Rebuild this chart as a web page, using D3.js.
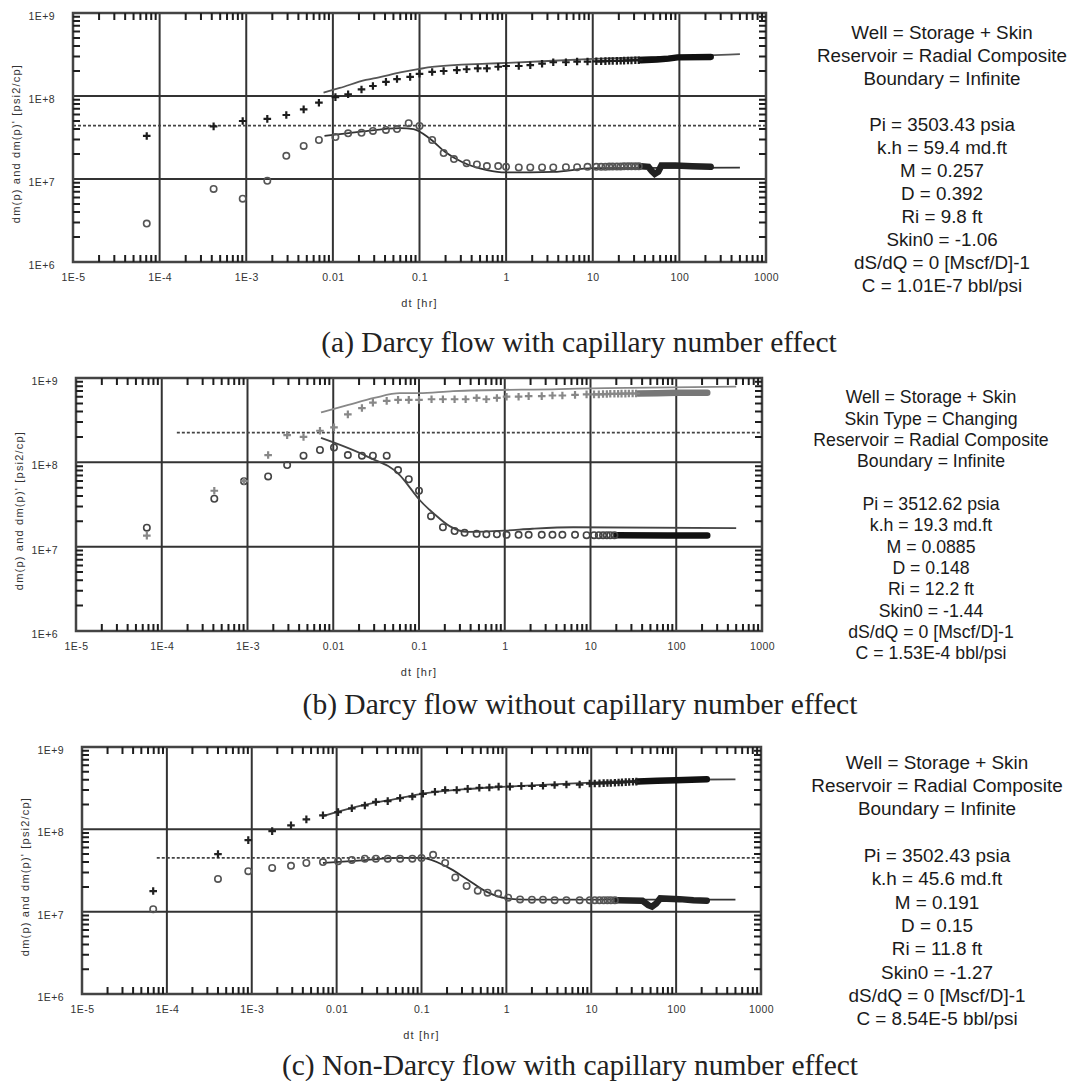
<!DOCTYPE html>
<html>
<head>
<meta charset="utf-8">
<script src="https://cdn.jsdelivr.net/npm/d3@7"></script>
<style>
  body { margin: 0; background: #fff; }
  svg { display: block; }
</style>
</head>
<body>
<svg id="chart" width="1070" height="1081"></svg>
<script>
// axis ticks
const xDecades = [1e-5, 1e-4, 1e-3, 1e-2, 1e-1, 1, 10, 100, 1000];
const xTickLabels = ["1E-5", "1E-4", "1E-3", "0.01", "0.1", "1", "10", "100", "1000"];
const yDecades = [1e6, 1e7, 1e8, 1e9];
const yTickLabels = ["1E+6", "1E+7", "1E+8", "1E+9"];
// minor tick multipliers inside a decade
const minorSteps = [2, 3, 4, 5, 6, 7, 8, 9];

const captions = [
  "(a) Darcy flow with capillary number effect",
  "(b) Darcy flow without capillary number effect",
  "(c) Non-Darcy flow with capillary number effect"
];

const paramsA = ["Well = Storage + Skin", "Reservoir = Radial Composite", "Boundary = Infinite", "",
  "Pi = 3503.43 psia", "k.h = 59.4 md.ft", "M = 0.257", "D = 0.392", "Ri = 9.8 ft",
  "Skin0 = -1.06", "dS/dQ = 0 [Mscf/D]-1", "C = 1.01E-7 bbl/psi"];
const paramsB = ["Well = Storage + Skin", "Skin Type = Changing", "Reservoir = Radial Composite", "Boundary = Infinite", "",
  "Pi = 3512.62 psia", "k.h = 19.3 md.ft", "M = 0.0885", "D = 0.148", "Ri = 12.2 ft",
  "Skin0 = -1.44", "dS/dQ = 0 [Mscf/D]-1", "C = 1.53E-4 bbl/psi"];
const paramsC = ["Well = Storage + Skin", "Reservoir = Radial Composite", "Boundary = Infinite", "",
  "Pi = 3502.43 psia", "k.h = 45.6 md.ft", "M = 0.191", "D = 0.15", "Ri = 11.8 ft",
  "Skin0 = -1.27", "dS/dQ = 0 [Mscf/D]-1", "C = 8.54E-5 bbl/psi"];

// ---- panel (a) ----
const pressA = [[7.1e-5, 3.3e7], [4.2e-4, 4.3e7], [9.1e-4, 5.0e7], [1.75e-3, 5.3e7], [2.9e-3, 5.9e7],
  [4.6e-3, 6.9e7], [6.9e-3, 8.3e7], [0.0107, 9.7e7], [0.015, 1.05e8], [0.0214, 1.2e8], [0.029, 1.32e8],
  [0.041, 1.48e8], [0.055, 1.6e8], [0.078, 1.7e8], [0.10, 1.85e8], [0.14, 1.95e8], [0.19, 2.0e8],
  [0.27, 2.05e8], [0.35, 2.1e8], [0.47, 2.15e8], [0.60, 2.15e8], [0.81, 2.25e8], [1.0, 2.3e8],
  [1.4, 2.3e8], [1.9, 2.35e8], [2.6, 2.45e8], [3.5, 2.55e8], [4.9, 2.55e8], [6.6, 2.6e8], [8.7, 2.6e8],
  [11, 2.62e8], [12.5, 2.62e8], [14, 2.63e8], [15.5, 2.64e8], [17, 2.64e8], [19, 2.65e8], [21, 2.66e8],
  [23, 2.67e8], [25.5, 2.68e8], [28, 2.68e8], [31, 2.7e8], [34, 2.7e8]];
const derivA = [[7.1e-5, 2.9e6], [4.2e-4, 7.6e6], [9.1e-4, 5.8e6], [1.75e-3, 9.5e6], [2.9e-3, 1.9e7],
  [4.6e-3, 2.5e7], [6.9e-3, 2.95e7], [0.0107, 3.2e7], [0.015, 3.55e7], [0.0214, 3.6e7], [0.029, 3.8e7],
  [0.041, 3.9e7], [0.055, 4.0e7], [0.075, 4.7e7], [0.10, 4.35e7], [0.14, 2.95e7], [0.19, 2.05e7],
  [0.25, 1.74e7], [0.35, 1.55e7], [0.46, 1.5e7], [0.60, 1.43e7], [0.81, 1.43e7], [1.0, 1.4e7],
  [1.4, 1.38e7], [1.9, 1.38e7], [2.6, 1.38e7], [3.5, 1.38e7], [4.9, 1.39e7], [6.6, 1.39e7], [8.7, 1.4e7],
  [11, 1.4e7], [12.5, 1.4e7], [14, 1.4e7], [15.5, 1.41e7], [17, 1.41e7], [19, 1.41e7], [21, 1.41e7],
  [23, 1.42e7], [25.5, 1.42e7], [28, 1.42e7], [31, 1.42e7], [34, 1.42e7]];
const pressBandA = [[36, 2.7e8], [55, 2.75e8], [75, 2.82e8], [95, 2.92e8], [230, 2.96e8]];
const derivBandA = [[36, 1.42e7], [44, 1.4e7], [48, 1.25e7], [52, 1.15e7], [57, 1.22e7], [62, 1.45e7],
  [90, 1.45e7], [140, 1.42e7], [230, 1.4e7]];
const modelPressA = [[0.0078, 1.1e8], [0.012, 1.25e8], [0.024, 1.56e8], [0.034, 1.68e8], [0.06, 1.92e8],
  [0.1, 2.12e8], [0.14, 2.24e8], [0.6, 2.45e8], [1.0, 2.5e8], [10, 2.8e8], [100, 3.0e8], [500, 3.2e8]];
const modelDerivA = [[0.008, 3.3e7], [0.02, 3.7e7], [0.06, 4.1e7], [0.085, 4.0e7], [0.13, 3.1e7],
  [0.2, 2.1e7], [0.31, 1.6e7], [0.6, 1.28e7], [1.0, 1.2e7], [3.5, 1.22e7], [10, 1.35e7], [500, 1.37e7]];
const stabA = [[1e-5, 4.4e7], [1e3, 4.4e7]];

// ---- panel (b) ----
const pressB = [[6.7e-5, 1.35e7], [4.1e-4, 4.6e7], [9.1e-4, 6.0e7], [1.74e-3, 1.22e8], [2.9e-3, 2.1e8],
  [4.5e-3, 2.0e8], [7e-3, 2.37e8], [0.0102, 2.6e8], [0.0148, 3.7e8], [0.0216, 4.4e8], [0.029, 5.1e8],
  [0.042, 5.35e8], [0.057, 5.5e8], [0.076, 5.5e8], [0.10, 5.5e8], [0.14, 5.6e8], [0.19, 5.6e8],
  [0.26, 5.6e8], [0.35, 5.6e8], [0.47, 5.8e8], [0.61, 5.6e8], [0.81, 5.8e8], [1.05, 6.0e8], [1.45, 6.0e8],
  [1.9, 6.1e8], [2.7, 6.1e8], [3.6, 6.2e8], [4.7, 6.2e8], [6.6, 6.3e8], [9, 6.4e8], [11, 6.4e8],
  [12.5, 6.4e8], [14, 6.45e8], [15.5, 6.45e8], [17, 6.5e8], [19, 6.5e8], [21, 6.5e8], [23, 6.52e8],
  [25.5, 6.52e8], [28, 6.55e8], [31, 6.55e8], [34, 6.55e8]];
const derivB = [[6.7e-5, 1.68e7], [4.1e-4, 3.7e7], [9.1e-4, 5.95e7], [1.74e-3, 6.8e7], [2.9e-3, 9.3e7],
  [4.5e-3, 1.2e8], [7e-3, 1.4e8], [0.0102, 1.5e8], [0.0148, 1.22e8], [0.0216, 1.2e8], [0.029, 1.2e8],
  [0.042, 1.2e8], [0.057, 8.1e7], [0.076, 6.3e7], [0.10, 4.6e7], [0.138, 2.3e7], [0.19, 1.7e7],
  [0.26, 1.53e7], [0.34, 1.46e7], [0.47, 1.42e7], [0.61, 1.4e7], [0.81, 1.4e7], [1.05, 1.38e7],
  [1.45, 1.38e7], [1.9, 1.38e7], [2.7, 1.38e7], [3.6, 1.38e7], [4.7, 1.38e7], [6.6, 1.38e7], [9, 1.37e7],
  [11, 1.37e7], [12.5, 1.37e7], [14, 1.37e7], [15.5, 1.37e7], [17, 1.37e7], [19, 1.37e7]];
const pressBandB = [[36, 6.55e8], [60, 6.6e8], [100, 6.7e8], [230, 6.7e8]];
const derivBandB = [[20, 1.37e7], [80, 1.36e7], [230, 1.36e7]];
const modelPressB = [[0.0072, 3.9e8], [0.015, 4.8e8], [0.03, 5.8e8], [0.06, 6.6e8], [0.1, 6.6e8],
  [0.25, 7.0e8], [4.3, 7.4e8], [15, 7.6e8], [500, 7.9e8]];
const modelDerivB = [[0.0072, 1.95e8], [0.025, 1.17e8], [0.06, 7.0e7], [0.085, 4.5e7], [0.1, 3.65e7],
  [0.15, 2.45e7], [0.23, 1.74e7], [0.36, 1.5e7], [1.0, 1.55e7], [2.1, 1.63e7], [6.3, 1.7e7], [500, 1.66e7]];
const stabB = [[1.5e-4, 2.25e8], [1e3, 2.25e8]];

// ---- panel (c) ----
const pressC = [[6.9e-5, 1.78e7], [4.0e-4, 5.0e7], [9.1e-4, 7.4e7], [1.74e-3, 9.5e7], [2.9e-3, 1.12e8],
  [4.4e-3, 1.32e8], [6.9e-3, 1.48e8], [0.0104, 1.62e8], [0.0151, 1.8e8], [0.0215, 1.95e8], [0.029, 2.15e8],
  [0.040, 2.2e8], [0.056, 2.4e8], [0.078, 2.5e8], [0.104, 2.7e8], [0.144, 2.86e8], [0.19, 3.0e8],
  [0.26, 3.0e8], [0.35, 3.1e8], [0.48, 3.2e8], [0.63, 3.22e8], [0.81, 3.3e8], [1.1, 3.3e8], [1.5, 3.36e8],
  [2.0, 3.36e8], [2.7, 3.38e8], [3.7, 3.45e8], [5.1, 3.5e8], [7.3, 3.5e8], [9.6, 3.6e8], [11, 3.6e8],
  [12.5, 3.62e8], [14, 3.64e8], [15.5, 3.65e8], [17, 3.66e8], [19, 3.68e8], [21, 3.7e8], [23, 3.72e8],
  [25.5, 3.74e8], [28, 3.76e8], [31, 3.78e8], [34, 3.8e8]];
const derivC = [[6.9e-5, 1.07e7], [4.0e-4, 2.5e7], [9.1e-4, 3.1e7], [1.74e-3, 3.4e7], [2.9e-3, 3.6e7],
  [4.4e-3, 3.9e7], [6.9e-3, 4.0e7], [0.0104, 4.1e7], [0.0151, 4.25e7], [0.0215, 4.4e7], [0.029, 4.4e7],
  [0.040, 4.4e7], [0.056, 4.4e7], [0.078, 4.4e7], [0.10, 4.5e7], [0.137, 4.9e7], [0.19, 3.9e7],
  [0.25, 2.6e7], [0.34, 2.05e7], [0.46, 1.8e7], [0.6, 1.7e7], [0.8, 1.66e7], [1.05, 1.48e7], [1.45, 1.41e7],
  [2.0, 1.4e7], [2.7, 1.4e7], [3.7, 1.38e7], [5.1, 1.38e7], [7.3, 1.38e7], [9.6, 1.38e7], [11, 1.38e7],
  [12.5, 1.38e7], [14, 1.38e7], [15.5, 1.38e7], [17, 1.38e7], [19, 1.38e7]];
const pressBandC = [[35, 3.82e8], [60, 3.88e8], [100, 3.95e8], [230, 4.05e8]];
const derivBandC = [[20, 1.38e7], [40, 1.36e7], [47, 1.2e7], [52, 1.15e7], [58, 1.25e7], [65, 1.45e7],
  [110, 1.42e7], [160, 1.38e7], [230, 1.36e7]];
const modelPressC = [[0.0069, 1.45e8], [0.02, 1.95e8], [0.056, 2.4e8], [0.1, 2.7e8], [0.3, 3.05e8],
  [1.0, 3.3e8], [10, 3.7e8], [100, 4.0e8], [500, 4.05e8]];
const modelDerivC = [[0.0069, 3.9e7], [0.02, 4.2e7], [0.056, 4.5e7], [0.1, 4.5e7], [0.2, 3.5e7],
  [0.34, 2.5e7], [0.58, 1.75e7], [1.0, 1.45e7], [1.7, 1.4e7], [500, 1.4e7]];
const stabC = [[7.6e-5, 4.5e7], [1e3, 4.5e7]];

// layout + styling for each panel
const panels = [
  { left: 73, top: 13, right: 766, bottom: 262,
    press: pressA, deriv: derivA, pressBand: pressBandA, derivBand: derivBandA,
    modelPress: modelPressA, modelDeriv: modelDerivA, stab: stabA,
    pressColor: "#1c1c1c", derivColor: "#555", pressBandColor: "#111", derivBandColor: "#222",
    modelPressColor: "#555", modelDerivColor: "#333",
    params: paramsA, textX: 942, textY: 32, textStep: 23, textSize: 18.8,
    caption: captions[0], capX: 579, capY: 352 },
  { left: 76, top: 378, right: 762, bottom: 631,
    press: pressB, deriv: derivB, pressBand: pressBandB, derivBand: derivBandB,
    modelPress: modelPressB, modelDeriv: modelDerivB, stab: stabB,
    pressColor: "#888", derivColor: "#444", pressBandColor: "#777", derivBandColor: "#111",
    modelPressColor: "#888", modelDerivColor: "#444",
    params: paramsB, textX: 931, textY: 397, textStep: 21.33, textSize: 17.7,
    caption: captions[1], capX: 580, capY: 714 },
  { left: 82, top: 747, right: 761, bottom: 994,
    press: pressC, deriv: derivC, pressBand: pressBandC, derivBand: derivBandC,
    modelPress: modelPressC, modelDeriv: modelDerivC, stab: stabC,
    pressColor: "#222", derivColor: "#555", pressBandColor: "#111", derivBandColor: "#222",
    modelPressColor: "#444", modelDerivColor: "#333",
    params: paramsC, textX: 937, textY: 762, textStep: 23.3, textSize: 18.9,
    caption: captions[2], capX: 570, capY: 1075 }
];

const svg = d3.select("#chart");
const tickFont = "'Liberation Sans', Arial, sans-serif";
const tickLen = 7;

// minor log ticks 2..9 in every decade
const xMinor = [];
xDecades.slice(0, -1).forEach(d => minorSteps.forEach(k => xMinor.push(d * k)));
const yMinor = [];
yDecades.slice(0, -1).forEach(d => minorSteps.forEach(k => yMinor.push(d * k)));

panels.forEach(p => {
  const g = svg.append("g");
  const x = d3.scaleLog().domain([1e-5, 1e3]).range([p.left, p.right]);
  const y = d3.scaleLog().domain([1e6, 1e9]).range([p.bottom, p.top]);

  // major grid
  g.append("g").selectAll("line")
    .data(xDecades.slice(1, -1))
    .join("line")
    .attr("x1", d => x(d)).attr("x2", d => x(d))
    .attr("y1", p.top).attr("y2", p.bottom)
    .attr("stroke", "#333").attr("stroke-width", 2);
  g.append("g").selectAll("line")
    .data(yDecades.slice(1, -1))
    .join("line")
    .attr("x1", p.left).attr("x2", p.right)
    .attr("y1", d => y(d)).attr("y2", d => y(d))
    .attr("stroke", "#333").attr("stroke-width", 2);

  // frame
  g.append("rect")
    .attr("x", p.left).attr("y", p.top)
    .attr("width", p.right - p.left).attr("height", p.bottom - p.top)
    .attr("fill", "none").attr("stroke", "#444").attr("stroke-width", 2.5);

  // minor ticks, pointing inward on all four sides
  const tickPath = (vals, f) => vals.map(f).join("");
  g.append("path")
    .attr("d",
      tickPath(xMinor, d => `M${x(d)},${p.top}v${tickLen}`) +
      tickPath(xMinor, d => `M${x(d)},${p.bottom}v${-tickLen}`) +
      tickPath(yMinor, d => `M${p.left},${y(d)}h${tickLen}`) +
      tickPath(yMinor, d => `M${p.right},${y(d)}h${-tickLen}`))
    .attr("fill", "none")
    .attr("stroke", "#1e1e1e")
    .attr("stroke-width", 2);

  // tick labels
  const xl = g.append("g").attr("transform", `translate(0,${p.bottom})`)
    .call(d3.axisBottom(x).tickValues(xDecades).tickSize(0).tickPadding(12)
      .tickFormat((d, i) => xTickLabels[i]));
  xl.select(".domain").remove();
  xl.selectAll("text").attr("font-family", tickFont).attr("font-size", 10.5)
    .attr("letter-spacing", 0.4).attr("fill", "#333");

  const yl = g.append("g").attr("transform", `translate(${p.left},0)`)
    .call(d3.axisLeft(y).tickValues(yDecades).tickSize(0).tickPadding(18)
      .tickFormat((d, i) => yTickLabels[i]));
  yl.select(".domain").remove();
  yl.selectAll("text").attr("font-family", tickFont).attr("font-size", 10.5)
    .attr("letter-spacing", 0.4).attr("dy", "0.62em").attr("fill", "#333");

  // axis titles
  g.append("text")
    .attr("x", (p.left + p.right) / 2).attr("y", p.bottom + 45)
    .attr("text-anchor", "middle")
    .attr("font-family", tickFont).attr("font-size", 11).attr("letter-spacing", 1.2)
    .attr("fill", "#333")
    .text("dt [hr]");
  g.append("text")
    .attr("transform", `translate(${p.left - 53},${(p.top + p.bottom) / 2 + 6}) rotate(-90)`)
    .attr("text-anchor", "middle")
    .attr("font-family", tickFont).attr("font-size", 11).attr("letter-spacing", 1.2)
    .attr("fill", "#333")
    .text("dm(p) and dm(p)'  [psi2/cp]");

  const line = d3.line().x(d => x(d[0])).y(d => y(d[1]));
  const curve = d3.line().x(d => x(d[0])).y(d => y(d[1])).curve(d3.curveMonotoneX);

  // stabilisation line
  g.append("path").datum(p.stab)
    .attr("d", line).attr("fill", "none")
    .attr("stroke", "#444").attr("stroke-width", 1.6).attr("stroke-dasharray", "3,2");

  // model curves
  g.append("path").datum(p.modelPress)
    .attr("d", curve).attr("fill", "none")
    .attr("stroke", p.modelPressColor).attr("stroke-width", 1.8);
  g.append("path").datum(p.modelDeriv)
    .attr("d", curve).attr("fill", "none")
    .attr("stroke", p.modelDerivColor).attr("stroke-width", 1.8);

  // dense tail of the data
  g.append("path").datum(p.pressBand)
    .attr("d", line).attr("fill", "none")
    .attr("stroke", p.pressBandColor).attr("stroke-width", 6.5).attr("stroke-linecap", "round");
  g.append("path").datum(p.derivBand)
    .attr("d", line).attr("fill", "none")
    .attr("stroke", p.derivBandColor).attr("stroke-width", 6.5).attr("stroke-linecap", "round");

  // derivative markers (circles)
  g.append("g").selectAll("circle")
    .data(p.deriv)
    .join("circle")
    .attr("cx", d => x(d[0])).attr("cy", d => y(d[1]))
    .attr("r", 3.2)
    .attr("fill", "none").attr("stroke", p.derivColor).attr("stroke-width", 1.6);

  // pressure markers (crosses)
  g.append("g").selectAll("path")
    .data(p.press)
    .join("path")
    .attr("transform", d => `translate(${x(d[0])},${y(d[1])})`)
    .attr("d", "M-3.8,0H3.8M0,-3.8V3.8")
    .attr("stroke", p.pressColor).attr("stroke-width", 2.2);

  // model parameters
  g.append("g").selectAll("text")
    .data(p.params)
    .join("text")
    .attr("x", p.textX)
    .attr("y", (d, i) => p.textY + i * p.textStep + p.textSize * 0.36)
    .attr("text-anchor", "middle")
    .attr("font-family", "'Liberation Sans', Arial, sans-serif")
    .attr("font-size", p.textSize)
    .attr("fill", "#1a1a1a")
    .text(d => d);

  // caption
  g.append("text")
    .attr("x", p.capX).attr("y", p.capY)
    .attr("text-anchor", "middle")
    .attr("font-family", "'Liberation Serif', 'Times New Roman', serif")
    .attr("font-size", 29.5)
    .attr("fill", "#222")
    .text(p.caption);
});
</script>
</body>
</html>
